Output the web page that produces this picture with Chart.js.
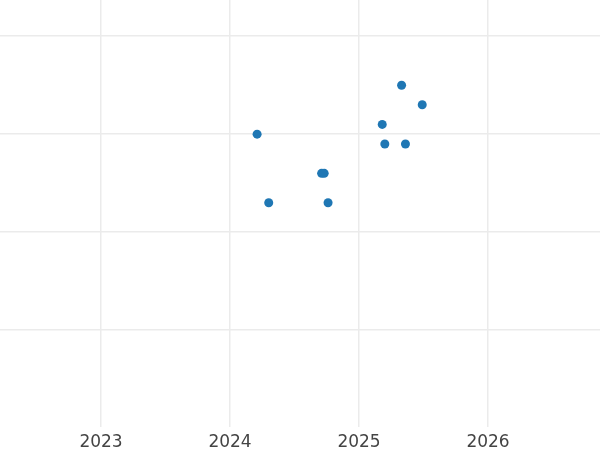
<!DOCTYPE html>
<html>
<head>
<meta charset="utf-8">
<script src="https://cdn.jsdelivr.net/npm/chart.js@4"></script>
<style>
  html, body { margin: 0; padding: 0; background: #fff; }
  #wrap { width: 600px; height: 450px; }
</style>
</head>
<body>
<div id="wrap"><canvas id="myChart" width="600" height="450"></canvas></div>
<script>
// data
const xValues = [2024.21, 2024.30, 2024.71, 2024.73, 2024.76, 2025.18, 2025.20, 2025.33, 2025.36, 2025.49];
const yValues = [3.0, 2.3, 2.6, 2.6, 2.3, 3.1, 2.9, 3.5, 2.9, 3.3];
const xTicks = [2023, 2024, 2025, 2026];

const points = xValues.map((x, i) => ({ x: x, y: yValues[i] }));

const ctx = document.getElementById('myChart');
const config = {
  type: 'scatter',
  data: {
    datasets: [{
      data: points,
      backgroundColor: '#1f77b4',
      borderWidth: 0,
      pointRadius: 4.5,
      pointHoverRadius: 4.5
    }]
  },
  options: {
    responsive: false,
    animation: false,
    layout: { padding: 0, autoPadding: false },
    plugins: { legend: { display: false }, tooltip: { enabled: false } },
    scales: {
      x: {
        type: 'linear',
        min: 2022.217,
        max: 2026.868,
        afterBuildTicks: (s) => { s.ticks = xTicks.map(v => ({ value: v })); },
        afterFit: (s) => { s.height = 23; }, // keep plot bottom near 427
        ticks: {
          callback: (v) => String(v),
          color: '#444',
          font: { family: 'DejaVu Sans', size: 17 },
          padding: 5,
          maxRotation: 0
        },
        grid: { color: '#ebebeb', lineWidth: 1.5, drawTicks: false },
        border: { display: false }
      },
      y: {
        min: 0.01,
        max: 4.37,
        afterBuildTicks: (s) => { s.ticks = [1, 2, 3, 4].map(v => ({ value: v })); },
        afterFit: (s) => { s.width = 0; },
        ticks: { display: false },
        grid: { color: '#ebebeb', lineWidth: 1.5, drawTicks: false },
        border: { display: false }
      }
    }
  }
};

const myChart = new Chart(ctx, config);
</script>
</body>
</html>
